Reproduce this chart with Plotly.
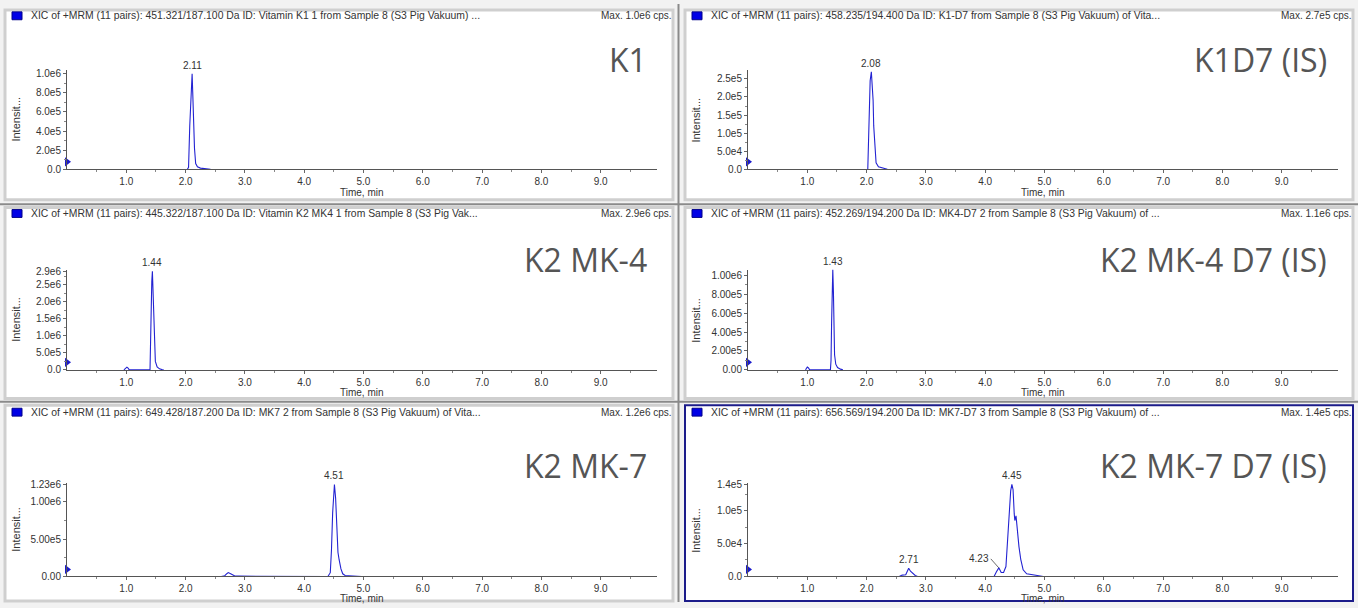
import plotly.graph_objects as go

# ---------------- data ----------------
headers = [
    "XIC of +MRM (11 pairs): 451.321/187.100 Da ID: Vitamin K1 1 from Sample 8 (S3 Pig Vakuum) ...",
    "XIC of +MRM (11 pairs): 458.235/194.400 Da ID: K1-D7 from Sample 8 (S3 Pig Vakuum) of Vita...",
    "XIC of +MRM (11 pairs): 445.322/187.100 Da ID: Vitamin K2 MK4 1 from Sample 8 (S3 Pig Vak...",
    "XIC of +MRM (11 pairs): 452.269/194.200 Da ID: MK4-D7 2 from Sample 8 (S3 Pig Vakuum) of ...",
    "XIC of +MRM (11 pairs): 649.428/187.200 Da ID: MK7 2 from Sample 8 (S3 Pig Vakuum) of Vita...",
    "XIC of +MRM (11 pairs): 656.569/194.200 Da ID: MK7-D7 3 from Sample 8 (S3 Pig Vakuum) of ...",
]
max_labels = ["Max. 1.0e6 cps.", "Max. 2.7e5 cps.", "Max. 2.9e6 cps.",
              "Max. 1.1e6 cps.", "Max. 1.2e6 cps.", "Max. 1.4e5 cps."]
big_labels = ["K1", "K1D7 (IS)", "K2 MK-4", "K2 MK-4 D7 (IS)", "K2 MK-7", "K2 MK-7 D7 (IS)"]

x_tickvals = [1, 2, 3, 4, 5, 6, 7, 8, 9]
x_ticktext = ["1.0", "2.0", "3.0", "4.0", "5.0", "6.0", "7.0", "8.0", "9.0"]
x_max = 9.95

# K1
k1_time = [2.03, 2.05, 2.07, 2.09, 2.11, 2.12, 2.13, 2.15, 2.17, 2.20, 2.25, 2.30, 2.38, 2.42]
k1_int = [0, 2.0e4, 4.5e5, 8.2e5, 1.0e6, 8.1e5, 5.2e5, 2.2e5, 6.0e4, 2.5e4, 1.2e4, 7e3, 5e3, 0]
k1_yticks = [0, 2e5, 4e5, 6e5, 8e5, 1.0e6]
k1_ytext = ["0.0", "2.0e5", "4.0e5", "6.0e5", "8.0e5", "1.0e6"]
k1_ymax = 1.04e6
k1_peaks = [(2.11, 1.0e6, "2.11")]

# K1-D7
k1d7_time = [2.02, 2.04, 2.06, 2.08, 2.09, 2.10, 2.11, 2.12, 2.14, 2.16, 2.20, 2.26, 2.32, 2.35]
k1d7_int = [0, 1.2e5, 2.45e5, 2.7e5, 2.45e5, 2.1e5, 1.9e5, 1.2e5, 5.0e4, 1.8e4, 7e3, 4e3, 3e3, 0]
k1d7_yticks = [0, 5e4, 1.0e5, 1.5e5, 2.0e5, 2.5e5]
k1d7_ytext = ["0.0", "5.0e4", "1.0e5", "1.5e5", "2.0e5", "2.5e5"]
k1d7_ymax = 2.75e5
k1d7_peaks = [(2.08, 2.7e5, "2.08")]

# K2 MK-4
mk4_time = [0.96, 0.99, 1.01, 1.03, 1.05, 1.40, 1.41, 1.43, 1.44, 1.45, 1.46, 1.47, 1.49, 1.52, 1.56, 1.60, 1.63]
mk4_int = [0, 6e4, 8e4, 5e4, 0, 0, 1.5e6, 2.6e6, 2.9e6, 2.4e6, 1.45e6, 1.0e6, 2.5e5, 9e4, 3e4, 1e4, 0]
mk4_yticks = [0, 5e5, 1.0e6, 1.5e6, 2.0e6, 2.5e6, 2.9e6]
mk4_ytext = ["0.0", "5.0e5", "1.0e6", "1.5e6", "2.0e6", "2.5e6", "2.9e6"]
mk4_ymax = 2.95e6
mk4_peaks = [(1.44, 2.9e6, "1.44")]

# K2 MK-4 D7
mk4d7_time = [0.97, 1.00, 1.02, 1.04, 1.39, 1.40, 1.41, 1.42, 1.43, 1.44, 1.45, 1.46, 1.48, 1.51, 1.56, 1.60]
mk4d7_int = [0, 3e4, 2e4, 0, 0, 1.0e5, 5.0e5, 8.5e5, 1.06e6, 8.4e5, 3.2e5, 1.6e5, 6e4, 2.5e4, 8e3, 0]
mk4d7_yticks = [0, 2e5, 4e5, 6e5, 8e5, 1.0e6]
mk4d7_ytext = ["0.00", "2.00e5", "4.00e5", "6.00e5", "8.00e5", "1.00e6"]
mk4d7_ymax = 1.06e6
mk4d7_peaks = [(1.43, 1.06e6, "1.43")]

# K2 MK-7
mk7_time = [2.60, 2.66, 2.70, 2.72, 2.76, 2.80, 2.83, 2.90, 4.40, 4.44, 4.46, 4.48, 4.50, 4.51, 4.53,
            4.55, 4.57, 4.59, 4.62, 4.65, 4.69, 4.75, 4.85, 4.95, 4.97]
mk7_int = [0, 1e4, 4e4, 5.2e4, 3.5e4, 1.2e4, 5e3, 4e3, 0, 5e4, 3.5e5, 8.5e5, 1.17e6, 1.23e6, 1.05e6,
           6.0e5, 3.2e5, 2.2e5, 1.0e5, 3.5e4, 1.2e4, 1e4, 9e3, 6e3, 0]
mk7_yticks = [0, 5e5, 1.0e6, 1.23e6]
mk7_ytext = ["0.00", "5.00e5", "1.00e6", "1.23e6"]
mk7_ymax = 1.25e6
mk7_peaks = [(4.51, 1.23e6, "4.51")]

# K2 MK-7 D7
mk7d7_time = [2.55, 2.60, 2.66, 2.69, 2.71, 2.74, 2.78, 2.82, 2.86, 4.15, 4.19, 4.23, 4.27, 4.31,
              4.35, 4.38, 4.41, 4.43, 4.45, 4.47, 4.49, 4.50, 4.52, 4.54, 4.57, 4.60, 4.64, 4.70,
              4.78, 4.88, 4.98]
mk7d7_int = [0, 2e3, 2.5e3, 8e3, 1.25e4, 8e3, 4e3, 1.5e3, 0, 0, 7e3, 1.3e4, 6e3, 6e3,
             1.5e4, 5.5e4, 1.05e5, 1.3e5, 1.4e5, 1.32e5, 9.5e4, 8.5e4, 9.2e4, 7.2e4, 4.5e4, 2.6e4, 1.0e4, 4e3,
             3e3, 1.5e3, 0]
mk7d7_yticks = [0, 5e4, 1.0e5, 1.4e5]
mk7d7_ytext = ["0.0", "5.0e4", "1.0e5", "1.4e5"]
mk7d7_ymax = 1.42e5
mk7d7_peaks = [(4.45, 1.4e5, "4.45"), (2.71, 1.25e4, "2.71")]
mk7d7_shoulder = (4.23, 1.3e4, "4.23")

series = [
    (k1_time, k1_int, k1_yticks, k1_ytext, k1_ymax, k1_peaks),
    (k1d7_time, k1d7_int, k1d7_yticks, k1d7_ytext, k1d7_ymax, k1d7_peaks),
    (mk4_time, mk4_int, mk4_yticks, mk4_ytext, mk4_ymax, mk4_peaks),
    (mk4d7_time, mk4d7_int, mk4d7_yticks, mk4d7_ytext, mk4d7_ymax, mk4d7_peaks),
    (mk7_time, mk7_int, mk7_yticks, mk7_ytext, mk7_ymax, mk7_peaks),
    (mk7d7_time, mk7d7_int, mk7d7_yticks, mk7d7_ytext, mk7d7_ymax, mk7d7_peaks),
]

# ---------------- layout geometry (pixels) ----------------
W, H = 1358, 608
def fx(x):
    return x / W
def fy(y):
    return 1 - y / H

cols = [  # frame x0, x1, plot x0, plot x1
    (5, 673, 67, 657),
    (685, 1353, 748, 1338),
]
rows = [  # frame y0, y1, plot top, plot bottom, header y, time-label y, big label y
    (6, 199, 67, 168, 12, 192, 56),
    (207, 401, 270, 372, 213, 395, 260),
    (408, 607, 487, 582, 415, 604, 469),
]

LINE = "#2323d2"
TXT = "#333333"
FONT = "Liberation Sans, Arial, sans-serif"

fig = go.Figure()
shapes = []
annotations = []

for i, (t, v, ytv, ytt, ymax, peaks) in enumerate(series):
    r, c = divmod(i, 2)
    fx0, fx1, px0, px1 = cols[c]
    fy0, fy1, pt, pb, hy, ty, by = rows[r]
    n = "" if i == 0 else str(i + 1)
    xa, ya = "x" + n, "y" + n

    # panel frame
    border = "#1c1c8a" if i == 5 else "#cfcfcf"
    bw = 2 if i == 5 else 3
    shapes.append(dict(type="rect", xref="paper", yref="paper",
                       x0=fx(fx0), x1=fx(fx1), y0=fy(fy1), y1=fy(fy0),
                       fillcolor="white", line=dict(color=border, width=bw), layer="below"))
    # blue legend square
    shapes.append(dict(type="rect", xref="paper", yref="paper",
                       x0=fx(fx0 + 7), x1=fx(fx0 + 17), y0=fy(hy + 4), y1=fy(hy - 4),
                       fillcolor="#0000e6", line=dict(color="#00008a", width=1), layer="above"))

    fig.add_trace(go.Scatter(x=t, y=v, mode="lines", xaxis=xa, yaxis=ya,
                             line=dict(color=LINE, width=1.1), showlegend=False,
                             hoverinfo="skip"))
    # start-of-trace marker at the y axis
    fig.add_trace(go.Scatter(x=[0], y=[ymax * 0.075], mode="markers", xaxis=xa, yaxis=ya,
                             marker=dict(symbol="triangle-right", size=8, color="#1a1acc"),
                             cliponaxis=False, showlegend=False, hoverinfo="skip"))

    step = ytv[1] - ytv[0]
    minor_y = []
    k = 1
    while k * step / 2 < ymax:
        if k % 2 == 1:
            minor_y.append(k * step / 2)
        k += 1

    xkey = "xaxis" + n
    ykey = "yaxis" + n
    fig.layout[xkey] = dict(
        domain=[fx(px0), fx(px1)], anchor=ya, range=[0, x_max],
        tickmode="array", tickvals=x_tickvals, ticktext=x_ticktext,
        ticks="outside", ticklen=3, tickcolor="#666", tickwidth=1,
        showline=True, linecolor="#555", linewidth=1,
        showgrid=False, zeroline=False, fixedrange=True,
        tickfont=dict(family=FONT, size=10, color=TXT),
        minor=dict(tickvals=[0.5 + m for m in range(10)], ticks="outside", ticklen=2,
                   tickcolor="#888", showgrid=False),
    )
    fig.layout[ykey] = dict(
        domain=[fy(pb), fy(pt)], anchor=xa, range=[0, ymax],
        tickmode="array", tickvals=ytv, ticktext=ytt,
        ticks="outside", ticklen=3, tickcolor="#666", tickwidth=1,
        showline=True, linecolor="#555", linewidth=1,
        showgrid=False, zeroline=False, fixedrange=True,
        tickfont=dict(family=FONT, size=10, color=TXT),
        minor=dict(tickvals=minor_y, ticks="outside", ticklen=2, tickcolor="#888", showgrid=False),
    )

    # header text
    annotations.append(dict(xref="paper", yref="paper", x=fx(fx0 + 24), y=fy(hy),
                            text=headers[i], showarrow=False, xanchor="left", yanchor="middle",
                            font=dict(family=FONT, size=10.4, color=TXT)))
    annotations.append(dict(xref="paper", yref="paper", x=fx(fx1 + 1), y=fy(hy),
                            text=max_labels[i], showarrow=False, xanchor="right", yanchor="middle",
                            font=dict(family=FONT, size=10, color=TXT)))
    # axis titles
    annotations.append(dict(xref="paper", yref="paper", x=fx((px0 + px1) / 2), y=fy(ty),
                            text="Time, min", showarrow=False, xanchor="center", yanchor="middle",
                            font=dict(family=FONT, size=10, color=TXT)))
    annotations.append(dict(xref="paper", yref="paper", x=fx(fx0 + 11), y=fy((pt + pb) / 2),
                            text="Intensit...", showarrow=False, textangle=-90,
                            xanchor="center", yanchor="middle",
                            font=dict(family=FONT, size=11, color=TXT)))
    # big compound label
    annotations.append(dict(xref="paper", yref="paper", x=fx(fx1 - 24), y=fy(by),
                            text=big_labels[i], showarrow=False, xanchor="right", yanchor="middle",
                            font=dict(family="Open Sans, sans-serif", size=32, color="#555555")))
    # peak labels
    for (pxv, pyv, lab) in peaks:
        annotations.append(dict(xref=xa, yref=ya, x=pxv, y=pyv, text=lab, showarrow=False,
                                xanchor="center", yanchor="bottom", yshift=1,
                                font=dict(family=FONT, size=10, color=TXT)))
    if i == 5:
        sx, sy, lab = mk7d7_shoulder
        annotations.append(dict(xref=xa, yref=ya, x=sx, y=sy, text=lab, showarrow=True,
                                arrowhead=0, arrowwidth=0.8, arrowcolor="#444",
                                ax=-8, ay=-9, xanchor="right", yanchor="middle",
                                font=dict(family=FONT, size=10, color=TXT)))

# window separators
shapes.append(dict(type="line", xref="paper", yref="paper", x0=fx(678.5), x1=fx(678.5),
                   y0=0, y1=1, line=dict(color="#8a8a8a", width=2)))
for yy in (203.5, 404.5):
    shapes.append(dict(type="line", xref="paper", yref="paper", x0=0, x1=1,
                       y0=fy(yy), y1=fy(yy), line=dict(color="#8a8a8a", width=2)))

fig.update_layout(
    width=W, height=H, autosize=False,
    margin=dict(l=0, r=0, t=0, b=0),
    paper_bgcolor="#f2f2f2", plot_bgcolor="rgba(0,0,0,0)",
    shapes=shapes, annotations=annotations, showlegend=False,
)

fig.write_html("out.html", config={"displayModeBar": False},
               post_script="document.body.style.margin='0';document.body.style.overflow='hidden';")
